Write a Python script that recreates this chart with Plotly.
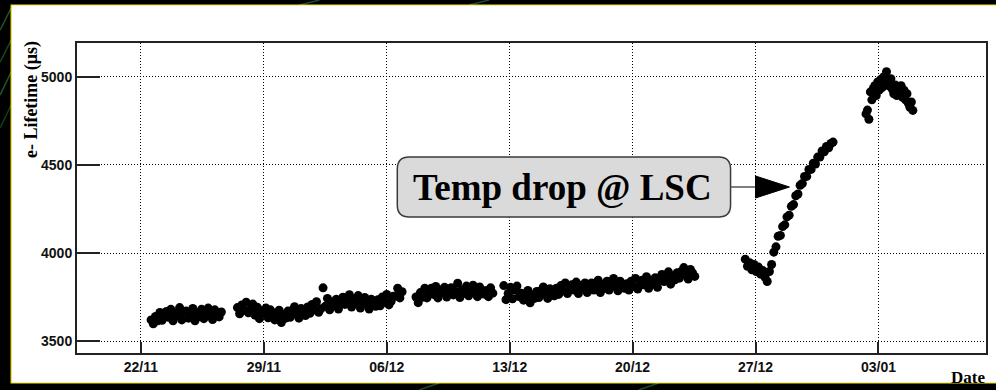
import pandas as pd
import plotly.graph_objects as go

# Electron lifetime (µs) per run; each run is sampled on a regular clock
run_starts = ["2018-11-22 14:00", "2018-11-27 12:00", "2018-12-07 16:00",
              "2018-12-12 16:00", "2018-12-26 10:00", "2019-01-02 07:00"]
run_steps = ["3h", "3h", "3h", "3h", "3h", "2h"]

lifetime_run1 = [3620, 3598, 3640, 3615, 3662, 3618, 3640, 3668,
                 3635, 3680, 3615, 3660, 3645, 3690, 3620, 3665,
                 3670, 3630, 3650, 3685, 3615, 3660, 3640, 3680,
                 3627, 3667, 3687, 3647, 3622, 3677, 3657, 3637, 3665]
lifetime_run2 = [3690, 3655, 3705, 3675, 3720, 3660, 3680, 3710,
                 3647, 3692, 3627, 3672, 3657, 3687, 3632, 3677,
                 3660, 3620, 3640, 3675, 3605, 3650, 3630, 3670,
                 3635, 3675, 3695, 3655, 3630, 3685, 3665, 3645,
                 3693, 3658, 3708, 3678, 3723, 3663, 3683, 3802,
                 3697, 3742, 3677, 3722, 3707, 3737, 3682, 3727,
                 3748, 3708, 3728, 3763, 3693, 3738, 3718, 3758,
                 3687, 3727, 3747, 3707, 3682, 3737, 3717, 3697,
                 3735, 3700, 3750, 3720, 3765, 3705, 3725, 3755,
                 3755, 3800, 3745, 3780]
lifetime_run3 = [3750, 3718, 3775, 3748, 3800, 3745, 3768, 3800,
                 3765, 3810, 3745, 3790, 3775, 3805, 3750, 3795,
                 3802, 3762, 3782, 3828, 3747, 3792, 3772, 3812,
                 3757, 3797, 3817, 3777, 3752, 3807, 3787, 3767,
                 3787, 3752, 3802, 3772]
lifetime_run4 = [3815, 3735, 3770, 3805, 3740, 3790, 3812, 3752,
                 3772, 3732, 3752, 3787, 3717, 3762, 3742, 3782,
                 3747, 3787, 3807, 3767, 3742, 3797, 3777, 3757,
                 3800, 3765, 3815, 3785, 3830, 3770, 3790, 3820,
                 3790, 3835, 3770, 3815, 3800, 3830, 3775, 3820,
                 3830, 3790, 3810, 3845, 3775, 3820, 3800, 3840,
                 3790, 3830, 3855, 3810, 3785, 3840, 3820, 3800,
                 3825, 3790, 3840, 3810, 3855, 3795, 3815, 3845,
                 3820, 3865, 3800, 3845, 3830, 3860, 3805, 3850,
                 3878, 3838, 3858, 3893, 3823, 3868, 3848, 3888,
                 3857, 3897, 3917, 3877, 3852, 3907, 3887, 3867]
lifetime_run5 = [3965, 3925, 3945, 3905, 3935, 3895, 3920, 3880,
                 3900, 3862, 3838, 3895, 3935, 4005, 4035, 4095,
                 4100, 4150, 4160, 4205, 4215, 4265, 4275, 4325,
                 4335, 4385, 4395, 4435, 4435, 4475, 4475, 4510,
                 4505, 4545, 4545, 4580, 4575, 4605, 4598, 4622,
                 4630]
lifetime_run6 = [4790, 4812, 4760, 4915, 4870, 4935, 4950, 4895, 4972, 4925,
                 4985, 4940, 5000, 4955, 5030, 4980, 4948, 4990, 4930, 4905,
                 4955, 4895, 4940, 4900, 4950, 4885, 4925, 4870, 4905, 4850,
                 4828, 4858, 4810]

runs = [lifetime_run1, lifetime_run2, lifetime_run3,
        lifetime_run4, lifetime_run5, lifetime_run6]

tick_dates = ["2018-11-22", "2018-11-29", "2018-12-06", "2018-12-13",
              "2018-12-20", "2018-12-27", "2019-01-03"]
tick_labels = ["22/11", "29/11", "06/12", "13/12", "20/12", "27/12", "03/01"]
y_ticks = [3500, 4000, 4500, 5000]

dates, values = [], []
for start, step, vals in zip(run_starts, run_steps, runs):
    dates.extend(pd.date_range(start, periods=len(vals), freq=step))
    values.extend(vals)

# ---- geometry (pixels) ----
W, H = 996, 390
L, R, T, B = 77, 8, 43, 37
PW, PH = W - L - R, H - T - B


def px(X):
    return (X - L) / PW


def py(Y):
    return (H - B - Y) / PH


def rounded_rect(X0, Y0, X1, Y1, r):
    p = lambda X, Y: f"{px(X):.5f},{py(Y):.5f}"
    return (f"M{p(X0 + r, Y0)} L{p(X1 - r, Y0)} Q{p(X1, Y0)} {p(X1, Y0 + r)} "
            f"L{p(X1, Y1 - r)} Q{p(X1, Y1)} {p(X1 - r, Y1)} "
            f"L{p(X0 + r, Y1)} Q{p(X0, Y1)} {p(X0, Y1 - r)} "
            f"L{p(X0, Y0 + r)} Q{p(X0, Y0)} {p(X0 + r, Y0)} Z")


fig = go.Figure()
fig.add_trace(go.Scatter(
    x=dates, y=values, mode="markers",
    marker=dict(color="black", size=9, line=dict(width=0)),
    showlegend=False, hoverinfo="x+y",
))

shapes = []
# faint green streaks of the dark slide background
for (xa, ya, xb, yb, c) in [(0, 30, 11, 8, "#1e5a26"), (0, 62, 11, 40, "#174a1f"),
                            (0, 95, 11, 72, "#1e5a26"), (0, 128, 11, 105, "#133c19"),
                            (300, 5, 320, 0, "#1c4a3a"), (470, 5, 490, 0, "#1c4a3a"),
                            (420, 390, 440, 383, "#1e4a28"), (640, 390, 660, 383, "#1e4a28")]:
    shapes.append(dict(type="line", xref="paper", yref="paper", layer="below",
                       x0=px(xa), y0=py(ya), x1=px(xb), y1=py(yb),
                       line=dict(color=c, width=1.5)))

shapes += [
    # white canvas with thin yellow border on the dark slide
    dict(type="rect", xref="paper", yref="paper", layer="below",
         x0=px(11), x1=px(1000), y0=py(383), y1=py(5),
         fillcolor="white", line=dict(color="#f0e020", width=1.2)),
    # callout box
    dict(type="path", xref="paper", yref="paper", layer="above",
         path=rounded_rect(398, 157, 732, 217, 12),
         fillcolor="#dadada", line=dict(color="#3a3a3a", width=1.5)),
    # arrow shaft
    dict(type="line", xref="paper", yref="paper", layer="above",
         x0=px(732), x1=px(758), y0=py(187), y1=py(187),
         line=dict(color="#555555", width=1.5)),
    # arrow head
    dict(type="path", xref="paper", yref="paper", layer="above",
         path=f"M{px(757)},{py(176)} L{px(791)},{py(187)} L{px(757)},{py(198)} Z",
         fillcolor="black", line=dict(color="black", width=1)),
]

annotations = [
    dict(text="<b>Temp drop @ LSC</b>", xref="paper", yref="paper",
         x=px(564), y=py(187), xanchor="center", yanchor="middle",
         showarrow=False,
         font=dict(family="Liberation Serif", size=37, color="black")),
    dict(text="<b>e- Lifetime (μs)</b>", xref="paper", yref="paper",
         x=px(31), y=py(100), xanchor="center", yanchor="middle",
         textangle=-90, showarrow=False,
         font=dict(family="Liberation Serif", size=18, color="black")),
    dict(text="<b>Date</b>", xref="paper", yref="paper",
         x=px(989), y=py(377), xanchor="right", yanchor="middle",
         showarrow=False,
         font=dict(family="Liberation Serif", size=17, color="black")),
]

fig.update_layout(
    width=W, height=H,
    margin=dict(l=L, r=R, t=T, b=B, pad=0),
    paper_bgcolor="black", plot_bgcolor="white",
    shapes=shapes, annotations=annotations,
    xaxis=dict(
        type="date", range=["2018-11-18 08:44", "2019-01-09 03:00"],
        tickmode="array", tickvals=tick_dates, ticktext=tick_labels,
        ticks="inside", ticklen=11, tickwidth=2, tickcolor="#222",
        tickfont=dict(family="Liberation Sans", size=14, color="#111",
                      weight="bold"),
        showgrid=True, gridcolor="black", gridwidth=1, griddash="1px,2px",
        showline=True, linecolor="#222", linewidth=2, mirror=True,
        zeroline=False,
    ),
    yaxis=dict(
        range=[3432, 5193], tickmode="array", tickvals=y_ticks,
        ticks="inside", ticklen=23, tickwidth=2, tickcolor="#222",
        tickfont=dict(family="Liberation Sans", size=14, color="#111",
                      weight="bold"),
        showgrid=True, gridcolor="black", gridwidth=1, griddash="1px,2px",
        showline=True, linecolor="#222", linewidth=2, mirror=True,
        zeroline=False,
    ),
)

fig.write_html("out.html")
